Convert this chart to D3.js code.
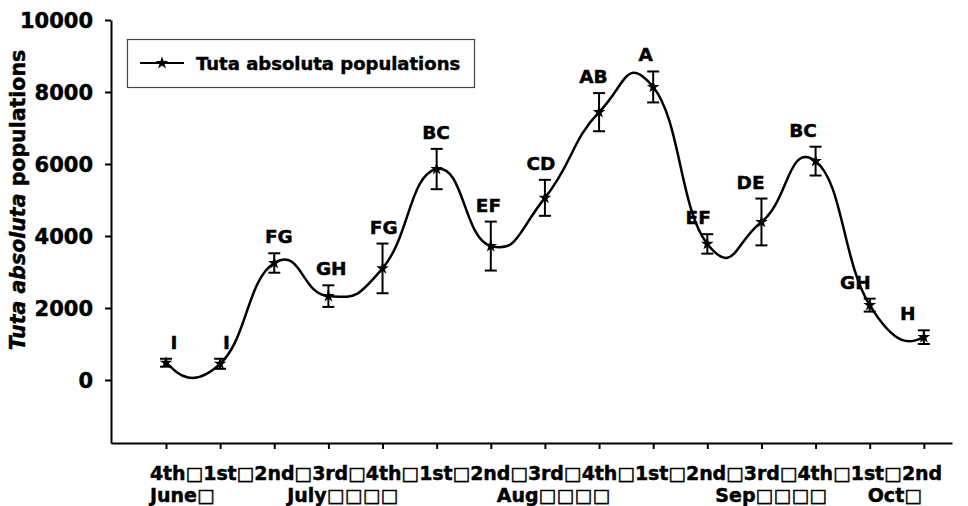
<!DOCTYPE html>
<html><head><meta charset="utf-8">
<script src="https://cdn.jsdelivr.net/npm/d3@7"></script>
<style>
body{margin:0;background:#fff;}
text{font-family:"DejaVu Sans",Verdana,sans-serif;font-weight:bold;fill:#000;stroke:#000;stroke-width:0.45px;}
</style></head>
<body>
<svg id="chart" width="968" height="506"></svg>
<script>
const categories = ["4th","1st","2nd","3rd","4th","1st","2nd","3rd","4th","1st","2nd","3rd","4th","1st","2nd"];
const months = ["June\u25A1","July\u25A1\u25A1\u25A1\u25A1","Aug\u25A1\u25A1\u25A1\u25A1","Sep\u25A1\u25A1\u25A1\u25A1","Oct\u25A1"];
const monthStart = [0, 2, 6, 10, 13];
const means = [480, 450, 3250, 2330, 3100, 5860, 3720, 5060, 7440, 8140, 3780, 4390, 6080, 2080, 1190];
const errors = [110, 140, 270, 300, 690, 560, 680, 500, 530, 430, 270, 650, 400, 180, 190];
const letters = ["I","I","FG","GH","FG","BC","EF","CD","AB","A","EF","DE","BC","GH","H"];
const yTicks = [0, 2000, 4000, 6000, 8000, 10000];
const seriesName = "Tuta absoluta populations";

const svg = d3.select("#chart");
const x = d3.scaleLinear().domain([-1.016, 14.52]).range([111, 952]);
const y = d3.scaleLinear().domain([-1750, 10000]).range([443, 20]);
const labelX = d3.scaleLinear().domain([0, 14]).range([x(0) + 8, x(14) - 16]);

// axes
const yAxis = svg.append("g").attr("transform", "translate(111,0)")
  .call(d3.axisLeft(y).tickValues(yTicks).tickSize(6).tickSizeOuter(0).tickPadding(12).tickFormat(d3.format("d")));
yAxis.selectAll("text").style("font-size", "21px").attr("dy", "0.36em");
yAxis.selectAll("path,line").attr("stroke", "#000").attr("stroke-width", 2);

const xAxis = svg.append("g").attr("transform", "translate(0,443)")
  .call(d3.axisBottom(x).tickValues(d3.range(categories.length)).tickSize(6).tickSizeOuter(0).tickFormat(""));
xAxis.selectAll("path,line").attr("stroke", "#000").attr("stroke-width", 2);

// x labels: line 1 continuous text of weeks
svg.append("text").attr("x", x(0) - 16).attr("y", 480)
  .attr("textLength", 792).attr("lengthAdjust", "spacing")
  .style("font-size", "19px")
  .text(categories.join("\u25A1"));
const monthOffsets = [-16, 13, 6, 8, -2];
svg.selectAll(".month").data(months).join("text").attr("class", "month")
  .attr("x", (d, i) => x(monthStart[i]) + monthOffsets[i]).attr("y", 502)
  .style("font-size", "19px").text(d => d);

// y title
const yt = svg.append("text").attr("transform", "translate(25,200) rotate(-90)")
  .attr("text-anchor", "middle").style("font-size", "20.5px");
yt.append("tspan").style("font-style", "italic").text("Tuta absoluta");
yt.append("tspan").text(" populations");

// smoothed line (Excel-like Bezier smoothing built from scaled points)
function smoothPath(vals) {
  const p = vals.map((v, i) => [x(i), y(v)]);
  const n = p.length, s = 1.5;
  const m = p.map((d, i) => (i > 0 && i < n - 1)
    ? [s * (p[i + 1][0] - p[i - 1][0]) / 2, s * (p[i + 1][1] - p[i - 1][1]) / 2] : null);
  m[0] = [(3 * (p[1][0] - p[0][0]) - m[1][0]) / 2, (3 * (p[1][1] - p[0][1]) - m[1][1]) / 2];
  m[n - 1] = [(3 * (p[n - 1][0] - p[n - 2][0]) - m[n - 2][0]) / 2, (3 * (p[n - 1][1] - p[n - 2][1]) - m[n - 2][1]) / 2];
  const path = d3.path();
  path.moveTo(p[0][0], p[0][1]);
  for (let i = 0; i < n - 1; i++) {
    path.bezierCurveTo(p[i][0] + m[i][0] / 3, p[i][1] + m[i][1] / 3,
      p[i + 1][0] - m[i + 1][0] / 3, p[i + 1][1] - m[i + 1][1] / 3,
      p[i + 1][0], p[i + 1][1]);
  }
  return path.toString();
}
svg.append("path").attr("d", smoothPath(means))
  .attr("fill", "none").attr("stroke", "#000").attr("stroke-width", 2.5);

// error bars
const eb = svg.append("g").attr("stroke", "#000").attr("stroke-width", 2);
means.forEach((mv, i) => {
  const cx = x(i);
  eb.append("line").attr("x1", cx).attr("x2", cx).attr("y1", y(mv + errors[i])).attr("y2", y(mv - errors[i]));
  eb.append("line").attr("x1", cx - 6).attr("x2", cx + 6).attr("y1", y(mv + errors[i])).attr("y2", y(mv + errors[i]));
  eb.append("line").attr("x1", cx - 6).attr("x2", cx + 6).attr("y1", y(mv - errors[i])).attr("y2", y(mv - errors[i]));
});

// markers
const star = d3.symbol().type(d3.symbolStar).size(50);
svg.selectAll(".pt").data(means).join("path").attr("class", "pt")
  .attr("transform", (d, i) => `translate(${x(i)},${y(d)})`).attr("d", star).attr("fill", "#000");

// letters
svg.selectAll(".lab").data(letters).join("text").attr("class", "lab")
  .attr("x", (d, i) => labelX(i)).attr("y", (d, i) => y(means[i] + errors[i]) - 10)
  .attr("text-anchor", "middle").style("font-size", "18.5px").text(d => d);

// legend
const lg = svg.append("g");
lg.append("rect").attr("x", 127.5).attr("y", 39.5).attr("width", 347).attr("height", 48)
  .attr("fill", "#fff").attr("stroke", "#444").attr("stroke-width", 1.2);
lg.append("line").attr("x1", 140).attr("x2", 184).attr("y1", 63).attr("y2", 63).attr("stroke", "#000").attr("stroke-width", 2);
lg.append("path").attr("transform", "translate(162,63)").attr("d", star).attr("fill", "#000");
lg.append("text").attr("x", 196).attr("y", 70).style("font-size", "18px").text(seriesName);
</script>
</body></html>
